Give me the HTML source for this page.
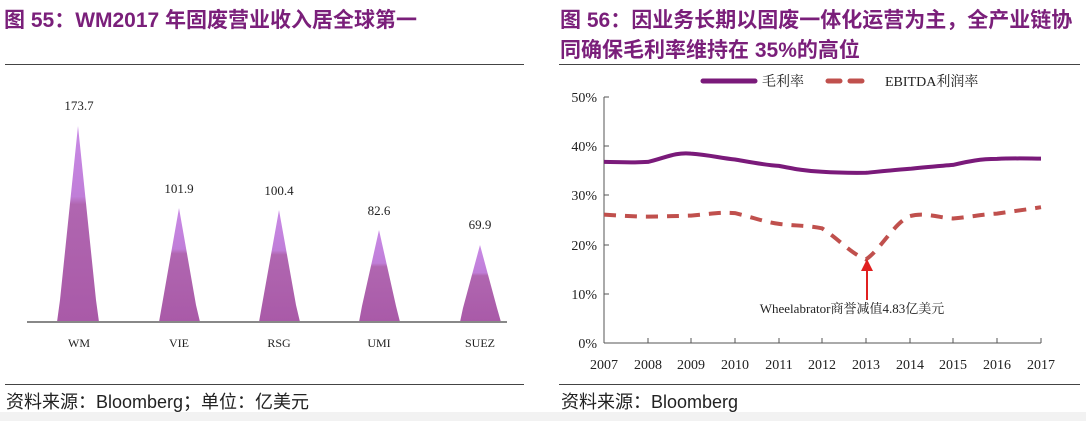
<!DOCTYPE html>
<html><head><meta charset="utf-8"><style>
html,body{margin:0;padding:0;background:#fff}
body{width:1086px;height:421px;position:relative;overflow:hidden;font-family:"Liberation Sans","Noto Sans CJK SC",sans-serif}
.t{position:absolute;color:#7a1f7a;font-weight:bold;font-size:21px;white-space:nowrap}
.f{position:absolute;font-size:18px;color:#222;white-space:nowrap}
.hl{position:absolute;height:1px;background:#444}
</style></head><body>
<div style="position:absolute;left:0;top:412px;width:1086px;height:9px;background:#f2f2f2"></div>
<div class="t" style="left:4px;top:4px">图 55：WM2017 年固废营业收入居全球第一</div>
<div class="t" style="left:560px;top:4px">图 56：因业务长期以固废一体化运营为主，全产业链协</div>
<div class="t" style="left:560px;top:34px">同确保毛利率维持在 35%的高位</div>
<div class="hl" style="left:5px;top:64px;width:519px"></div>
<div class="hl" style="left:559px;top:64px;width:521px"></div>
<div class="hl" style="left:5px;top:384px;width:519px"></div>
<div class="hl" style="left:559px;top:384px;width:521px"></div>
<div class="f" style="left:6px;top:388px">资料来源：Bloomberg；单位：亿美元</div>
<div class="f" style="left:561px;top:388px">资料来源：Bloomberg</div>

<svg width="1086" height="421" style="position:absolute;left:0;top:0" font-family="Liberation Serif, Noto Serif CJK SC, serif">
<defs>
<linearGradient id="g" x1="0" y1="0" x2="0" y2="1">
<stop offset="0" stop-color="#c98ae6"/><stop offset="0.36" stop-color="#c07ed8"/><stop offset="0.4" stop-color="#b066b0"/><stop offset="1" stop-color="#a95aa8"/></linearGradient>
</defs>
<g fill="url(#g)">
<path d="M57,322 L60,300 L78,126 L96,300 L99,322Z"/>
<path d="M159,322 L162,305 L179,208 L196,305 L200,322Z"/>
<path d="M259,322 L262,305 L279,210 L296,305 L300,322Z"/>
<path d="M359,322 L362,306 L379,230 L396,306 L400,322Z"/>
<path d="M460,322 L463,308 L480,245 L497,308 L501,322Z"/>
</g>
<line x1="27" y1="322" x2="507" y2="322" stroke="#888" stroke-width="2"/>
<g font-size="13" text-anchor="middle" fill="#222">
<text x="79" y="110">173.7</text><text x="179" y="193">101.9</text><text x="279" y="195">100.4</text><text x="379" y="215">82.6</text><text x="480" y="229">69.9</text>
<text x="79" y="347" font-size="12">WM</text><text x="179" y="347" font-size="12">VIE</text><text x="279" y="347" font-size="12">RSG</text><text x="379" y="347" font-size="12">UMI</text><text x="480" y="347" font-size="12">SUEZ</text>
</g>

<g stroke="#555" stroke-width="1">
<line x1="604" y1="97" x2="604" y2="343"/><line x1="604" y1="343" x2="1041" y2="343"/>
<line x1="604" y1="97" x2="609" y2="97"/><line x1="604" y1="146" x2="609" y2="146"/><line x1="604" y1="195" x2="609" y2="195"/><line x1="604" y1="245" x2="609" y2="245"/><line x1="604" y1="294" x2="609" y2="294"/>
<line x1="648" y1="343" x2="648" y2="338"/><line x1="691" y1="343" x2="691" y2="338"/><line x1="735" y1="343" x2="735" y2="338"/><line x1="779" y1="343" x2="779" y2="338"/><line x1="822" y1="343" x2="822" y2="338"/><line x1="866" y1="343" x2="866" y2="338"/><line x1="910" y1="343" x2="910" y2="338"/><line x1="953" y1="343" x2="953" y2="338"/><line x1="997" y1="343" x2="997" y2="338"/><line x1="1041" y1="343" x2="1041" y2="338"/>
</g>
<g font-size="14" fill="#222" text-anchor="end">
<text x="597" y="102">50%</text><text x="597" y="151">40%</text><text x="597" y="200">30%</text><text x="597" y="250">20%</text><text x="597" y="299">10%</text><text x="597" y="348">0%</text>
</g>
<g font-size="14" fill="#222" text-anchor="middle">
<text x="604" y="369">2007</text><text x="648" y="369">2008</text><text x="691" y="369">2009</text><text x="735" y="369">2010</text><text x="779" y="369">2011</text><text x="822" y="369">2012</text><text x="866" y="369">2013</text><text x="910" y="369">2014</text><text x="953" y="369">2015</text><text x="997" y="369">2016</text><text x="1041" y="369">2017</text>
</g>
<path d="M604,161.9 C620,162 630,163 648,161.9 C665,158 675,152 691,153.6 C710,155 720,158 735,159.5 C755,163 765,165 779,165.9 C795,169 805,171 822,171.8 C840,173 850,173 866,172.8 C885,171 895,170 910,168.8 C925,167 940,166 953,164.9 C970,161 980,159 997,158.9 C1015,158 1030,158.6 1041,158.6" fill="none" stroke="#7a1a7a" stroke-width="4"/>
<path d="M604,214.6 C620,215.5 630,216.5 648,216.6 C665,216.5 675,216 691,215.6 C710,214 720,212 735,213.1 C755,218 765,222 779,223.9 C795,226 805,225 822,228.3 C840,240 850,253 866,259.4 C880,250 895,222 910,216.1 C925,212 940,218 953,218.5 C970,217 985,214 997,213.6 C1015,211 1030,209 1041,207.2" fill="none" stroke="#c0504d" stroke-width="4" stroke-dasharray="12,9"/>
<line x1="867" y1="300" x2="867" y2="270" stroke="#e02020" stroke-width="2"/>
<polygon points="867,259 861,271 873,271" fill="#e02020"/>
<text x="852" y="313" font-size="13" fill="#222" text-anchor="middle">Wheelabrator商誉减值4.83亿美元</text>
<line x1="703" y1="81" x2="755" y2="81" stroke="#7a1a7a" stroke-width="5" stroke-linecap="round"/>
<text x="762" y="86" font-size="14" fill="#222">毛利率</text>
<line x1="828" y1="81" x2="868" y2="81" stroke="#c0504d" stroke-width="5" stroke-dasharray="12,10" stroke-linecap="round"/>
<text x="885" y="86" font-size="14" fill="#222">EBITDA利润率</text>
</svg>
</body></html>
